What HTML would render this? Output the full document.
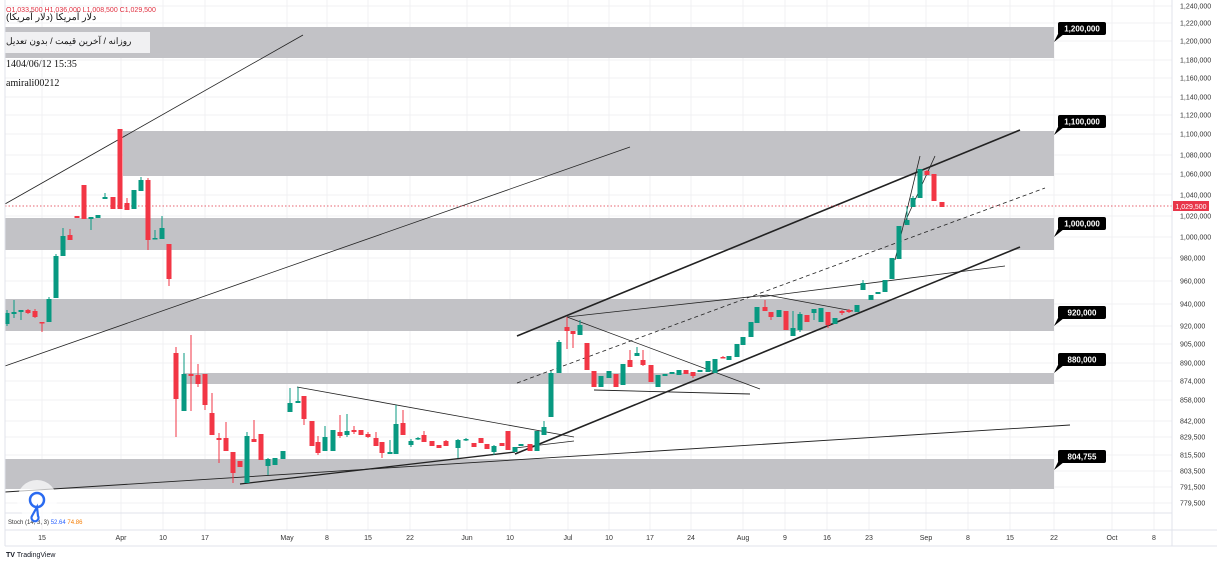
<!DOCTYPE html>
<html><head><meta charset="utf-8"><style>
html,body{margin:0;padding:0;background:#fff;width:1217px;height:564px;overflow:hidden;font-family:"Liberation Sans","Noto Sans CJK SC",sans-serif}
svg{position:absolute;left:0;top:0}
</style></head><body>
<svg id="s" width="1217" height="564" viewBox="0 0 1217 564" xmlns="http://www.w3.org/2000/svg" font-family="Liberation Sans, sans-serif">
<rect x="0" y="0" width="1217" height="564" fill="#fff"/>
<g id="grid" stroke="#f0f0f3" stroke-width="1"></g>
<!-- bands -->
<g fill="#c2c2c6">
<rect x="5" y="27" width="1049" height="31"/>
<rect x="123" y="131" width="931" height="45"/>
<rect x="5" y="218" width="1049" height="32"/>
<rect x="5" y="299" width="1049" height="32"/>
<rect x="183" y="373" width="871" height="11"/>
<rect x="5" y="459" width="1049" height="30"/>
</g>
<rect x="5" y="32" width="145" height="21" fill="#f0f0f2"/>
<!-- lines -->
<g stroke="#222" fill="none">
<line x1="5" y1="204" x2="303" y2="35" stroke-width="0.8"/>
<line x1="5" y1="366" x2="630" y2="147" stroke-width="0.8"/>
<line x1="517" y1="336" x2="1020" y2="130" stroke-width="1.6"/>
<line x1="515" y1="454" x2="1020" y2="247" stroke-width="1.6"/>
<line x1="240" y1="484" x2="515" y2="452" stroke-width="1.3"/>
<line x1="517" y1="383" x2="1045" y2="188" stroke-width="0.8" stroke-dasharray="4,3"/>
<line x1="5" y1="492" x2="1070" y2="425" stroke-width="0.9"/>
<line x1="297" y1="387" x2="574" y2="437" stroke-width="0.8"/>
<line x1="515" y1="448" x2="574" y2="441" stroke-width="0.8"/>
<line x1="567" y1="317" x2="760" y2="389" stroke-width="0.8"/>
<line x1="567" y1="317" x2="767" y2="295" stroke-width="0.8"/>
<line x1="767" y1="295" x2="853" y2="311" stroke-width="0.8"/>
<line x1="760" y1="297" x2="1005" y2="266" stroke-width="0.8"/>
<line x1="594" y1="390" x2="750" y2="394" stroke-width="0.9"/>
<line x1="895" y1="260" x2="920" y2="156" stroke-width="0.8"/>
<line x1="905" y1="222" x2="935" y2="156" stroke-width="0.8"/>
</g>
<line x1="5" y1="206" x2="1172" y2="206" stroke="#e03040" stroke-width="0.8" stroke-dasharray="1.5,2"/>
<g id="c"></g>
<!-- labels -->
<g id="lab" font-size="8" font-weight="bold" fill="#fff"></g>
<!-- axis -->
<line x1="1172" y1="0" x2="1172" y2="546" stroke="#e0e3eb"/>
<line x1="5" y1="513" x2="1172" y2="513" stroke="#e0e3eb"/>
<line x1="5" y1="530" x2="1217" y2="530" stroke="#e0e3eb"/>
<line x1="5" y1="546" x2="1217" y2="546" stroke="#e0e3eb"/>
<line x1="5" y1="0" x2="5" y2="546" stroke="#e0e3eb"/>
<g id="ax" font-size="7" fill="#333"></g>
<g id="tx" font-size="7" fill="#333" text-anchor="middle"></g>
<rect x="1173" y="201" width="36" height="10" fill="#e8364a"/>
<text x="1191" y="209" font-size="7" fill="#fff" text-anchor="middle">1,029,500</text>
<text x="6" y="12" font-size="7" fill="#e03040">O1,033,500 H1,036,000 L1,008,500 C1,029,500</text>
<text x="6" y="20" font-size="9.5" fill="#111">دلار آمریکا (دلار آمریکا)</text>
<text x="6" y="44" font-size="9" fill="#111">روزانه / آخرین قیمت / بدون تعدیل</text>
<text x="6" y="67" font-family="Liberation Serif, serif" font-size="10" fill="#111">1404/06/12 15:35</text>
<text x="6" y="86" font-family="Liberation Serif, serif" font-size="10" fill="#111">amirali00212</text>
<text x="8" y="524" font-size="6" fill="#333">Stoch (14, 3, 3) <tspan fill="#2962ff">52.64</tspan> <tspan fill="#f57c00">74.86</tspan></text>
<circle cx="37" cy="500" r="20" fill="#fff" fill-opacity="0.7"/>
<circle cx="37" cy="500" r="7" fill="none" stroke="#2a6af0" stroke-width="2.5"/>
<path d="M37 507 L32 516 a3.5 3.5 0 1 0 6 0 z" fill="none" stroke="#2a6af0" stroke-width="2.2"/>
<text x="6" y="557" font-size="7" fill="#131722" font-weight="bold">TV <tspan font-weight="normal">TradingView</tspan></text>
</svg>
<script>
var NS="http://www.w3.org/2000/svg";
function el(p,t,a,txt){var e=document.createElementNS(NS,t);for(var k in a)e.setAttribute(k,a[k]);if(txt)e.textContent=txt;document.getElementById(p).appendChild(e);return e;}
var ys=[[6,"1,240,000"],[23,"1,220,000"],[41,"1,200,000"],[60,"1,180,000"],[78,"1,160,000"],[97,"1,140,000"],[115,"1,120,000"],[134,"1,100,000"],[155,"1,080,000"],[174,"1,060,000"],[195,"1,040,000"],[216,"1,020,000"],[237,"1,000,000"],[258,"980,000"],[281,"960,000"],[304,"940,000"],[326,"920,000"],[344,"905,000"],[363,"890,000"],[381,"874,000"],[400,"858,000"],[421,"842,000"],[437,"829,500"],[455,"815,500"],[471,"803,500"],[487,"791,500"],[503,"779,500"]];
ys.forEach(function(v){el("grid","line",{x1:5,x2:1172,y1:v[0],y2:v[0]});el("ax","text",{x:1180,y:v[0]+2.5},v[1]);});
var xs=[[42,"15"],[121,"Apr"],[163,"10"],[205,"17"],[287,"May"],[327,"8"],[368,"15"],[410,"22"],[467,"Jun"],[510,"10"],[568,"Jul"],[609,"10"],[650,"17"],[691,"24"],[743,"Aug"],[785,"9"],[827,"16"],[869,"23"],[926,"Sep"],[968,"8"],[1010,"15"],[1054,"22"],[1112,"Oct"],[1154,"8"]];
xs.forEach(function(v){el("grid","line",{x1:v[0],x2:v[0],y1:0,y2:530});el("tx","text",{x:v[0],y:540},v[1]);});
// x, top, bottom, wickTop, wickBot, color(g/r)
var C=[[7,313,324,310,326,"g"],[14,312,314,300,318,"g"],[21,310,312,310,320,"g"],[28,310,313,309,314,"r"],[35,311,317,309,318,"r"],[42,322,323,322,332,"r"],[49,299,322,297,322,"g"],[56,256,298,254,298,"g"],[63,236,256,228,256,"g"],[70,235,240,229,240,"r"],[77,216,218,216,218,"r"],[84,185,219,185,219,"r"],[91,217,219,217,230,"g"],[98,215,218,215,218,"g"],[105,197,199,193,199,"g"],[113,197,209,197,209,"r"],[120,129,209,129,209,"r"],[127,203,210,198,210,"r"],[134,190,209,190,209,"g"],[141,180,191,177,191,"g"],[148,180,240,178,250,"r"],[155,238,239,230,239,"g"],[162,228,239,216,239,"g"],[169,244,279,244,286,"r"],
[176,353,399,347,437,"r"],[184,374,411,353,411,"g"],[191,374,376,335,411,"r"],[198,375,384,364,387,"r"],[205,374,405,374,410,"r"],[212,413,435,393,435,"r"],[219,438,440,433,463,"r"],[226,438,451,422,451,"r"],[233,452,473,452,483,"r"],[240,461,467,461,467,"r"],[247,436,483,432,483,"g"],[254,439,442,420,442,"r"],[261,434,460,434,460,"r"],[268,459,466,458,475,"g"],[275,458,465,458,465,"g"],[283,451,459,451,459,"g"],
[290,403,412,388,412,"g"],[298,401,403,387,403,"g"],[304,396,419,396,425,"r"],[312,421,446,421,446,"r"],[318,442,453,436,455,"r"],[325,437,451,426,451,"g"],[333,430,451,430,451,"g"],[340,432,436,415,438,"r"],[347,431,435,414,437,"g"],[354,430,432,426,434,"r"],[361,430,435,430,435,"r"],[368,434,437,432,438,"r"],[376,438,446,432,446,"r"],[382,442,453,442,458,"r"],[390,452,454,440,454,"g"],[396,424,454,405,454,"g"],[403,423,435,410,435,"r"],[411,441,445,439,447,"g"],[418,438,439,437,440,"g"],[424,435,442,431,442,"r"],[432,441,446,441,446,"r"],[439,445,448,445,448,"r"],[446,441,446,440,446,"r"],[458,440,448,439,458,"g"],[466,439,440,438,441,"g"],[474,443,447,443,447,"r"],[481,438,443,438,443,"r"],[487,444,449,444,449,"r"],[494,446,452,445,455,"g"],[502,443,446,443,446,"r"],[508,431,450,431,450,"r"],[515,447,452,447,452,"g"],[521,444,446,444,446,"g"],[530,444,451,444,451,"r"],[537,431,451,431,451,"g"],[544,427,435,421,435,"g"],
[551,373,417,371,417,"g"],[559,342,373,340,373,"g"],[567,327,331,317,349,"r"],[573,331,334,331,348,"r"],[580,325,335,320,335,"g"],[587,343,370,343,370,"r"],[594,371,387,371,387,"r"],[601,376,387,376,387,"g"],[609,371,378,371,378,"g"],[616,374,387,374,387,"r"],[623,364,385,364,385,"g"],[630,360,367,350,367,"r"],[637,353,356,347,356,"g"],[643,360,365,350,366,"r"],[651,365,382,365,382,"r"],[658,375,387,375,387,"g"],[665,374,376,374,376,"g"],[672,372,374,372,374,"g"],[679,370,375,370,375,"g"],[686,370,374,370,374,"r"],[693,372,376,372,378,"r"],[700,370,372,370,372,"g"],[708,361,372,361,372,"g"],
[715,359,373,359,373,"g"],[723,357,358,356,358,"r"],[729,356,360,356,360,"g"],[737,344,357,344,357,"g"],[743,337,345,337,345,"g"],[751,322,337,322,337,"g"],[757,307,323,307,323,"g"],[765,307,311,300,311,"r"],[771,312,317,312,320,"r"],[779,310,317,310,317,"g"],[786,311,330,311,330,"r"],[793,328,336,311,336,"g"],[800,314,330,312,332,"g"],[807,315,322,315,322,"r"],[814,309,313,309,320,"g"],[821,308,322,308,322,"g"],[828,312,325,312,328,"r"],[835,318,324,318,324,"g"],[842,311,313,310,315,"r"],[849,310,312,309,313,"r"],[857,305,312,305,312,"g"],[863,283,290,280,290,"g"],[871,295,300,295,300,"g"],[878,292,294,292,294,"g"],[885,280,292,280,292,"g"],[892,258,279,258,279,"g"],[899,226,259,226,259,"g"],[907,220,225,206,225,"g"],[913,198,207,196,207,"g"],[920,169,198,169,198,"g"],[927,171,175,170,175,"r"],[934,174,201,174,201,"r"],[942,202,207,202,207,"r"]];
C.forEach(function(c){var col=c[5]=="g"?"#089981":"#f23645";el("c","line",{x1:c[0],x2:c[0],y1:c[3],y2:c[4],stroke:col,"stroke-width":1});el("c","rect",{x:c[0]-2.5,y:c[1],width:5,height:Math.max(1.5,c[2]-c[1]),fill:col});});
var L=[[22,"1,200,000",42],[115,"1,100,000",132],[217,"1,000,000",232],[306,"920,000",323],[353,"880,000",378],[450,"804,755",466]];
L.forEach(function(l){var y=l[0];el("lab","path",{d:"M1058 "+(y+12)+" L1064 "+(y+12)+" L1054 "+(y+20)+" Z",fill:"#000"});el("lab","rect",{x:1058,y:y,width:48,height:13,rx:2,fill:"#000"});el("lab","text",{x:1082,y:y+9.5,"text-anchor":"middle"},l[1]);});
</script>
</body></html>
